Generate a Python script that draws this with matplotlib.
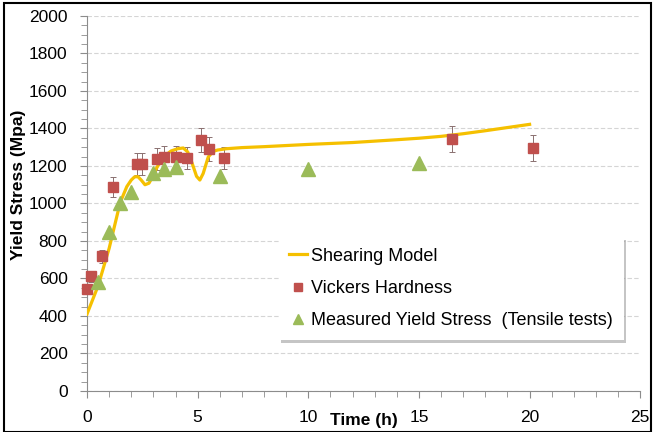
import matplotlib
matplotlib.use('Agg')
import matplotlib.pyplot as plt
from matplotlib.patches import Rectangle

plt.rcParams['font.family'] = ['Liberation Sans', 'DejaVu Sans']

# shearing model curve
t_model = [0, 0.5, 1.0, 1.5, 1.8, 2.0, 2.15, 2.3, 2.45, 2.62, 2.8, 3.0, 3.15, 3.45,
           3.8, 4.1, 4.35, 4.55, 4.75, 4.95, 5.1, 5.25, 5.48, 5.7, 5.9, 6.3, 7, 8,
           10, 12, 14, 15, 16, 17, 18, 19, 20]
y_model = [410, 560, 760, 1005, 1090, 1125, 1142, 1143, 1125, 1100, 1108, 1150, 1190, 1248,
           1280, 1292, 1296, 1275, 1215, 1145, 1125, 1160, 1248, 1278, 1285, 1292, 1298, 1303,
           1315, 1325, 1340, 1348, 1358, 1372, 1388, 1405, 1422]

# Vickers hardness
t_vh = [0, 0.17, 0.67, 1.17, 2.25, 2.5, 3.17, 3.5, 4.0, 4.5, 5.17, 5.5, 6.17, 16.5, 20.17]
y_vh = [545, 612, 718, 1088, 1210, 1210, 1237, 1248, 1248, 1243, 1339, 1291, 1243, 1344, 1296]
err_vh = [25, 30, 35, 55, 60, 60, 60, 60, 60, 60, 64, 64, 60, 70, 68]

# measured yield stress (tensile tests)
t_ys = [0.5, 1, 1.5, 2, 3, 3.5, 4, 6, 10, 15]
y_ys = [580, 850, 1005, 1060, 1165, 1185, 1195, 1145, 1185, 1215]

fig = plt.figure(figsize=(6.54, 4.32), dpi=100)
ax = fig.add_axes([0.133, 0.095, 0.846, 0.868])

ax.plot(t_model, y_model, color='#F5C000', lw=2.3, label='Shearing Model', zorder=3)
ax.errorbar(t_vh, y_vh, yerr=err_vh, fmt='none', ecolor='#8a7070', elinewidth=0.7,
            capsize=2.5, capthick=0.7, zorder=2)
ax.plot(t_vh, y_vh, 's', color='#C0504D', ms=7, mec='#C0504D', label='Vickers Hardness',
        zorder=4, clip_on=False)
ax.plot(t_ys, y_ys, '^', color='#9BBB59', ms=9.5, mec='#9BBB59', zorder=4, clip_on=False,
        label='Measured Yield Stress  (Tensile tests)')

ax.set_xlim(0, 25)
ax.set_ylim(0, 2000)
ax.set_xticks(range(0, 26, 5))
ax.set_xticks(range(0, 26, 1), minor=True)
ax.set_yticks(range(0, 2001, 200))
ax.set_yticks(range(0, 2001, 50), minor=True)
ax.yaxis.grid(True, color='#d5d5d5', ls=(0, (4, 2)), lw=0.8)
ax.set_axisbelow(True)

for s in ['top', 'right']:
    ax.spines[s].set_visible(False)
for s in ['left', 'bottom']:
    ax.spines[s].set_color('#8c8c8c')
ax.tick_params(which='both', direction='out', color='#8c8c8c', labelsize=12.5)
ax.tick_params(which='major', length=5)
ax.tick_params(which='minor', length=4)
ax.tick_params(axis='y', pad=9)
ax.tick_params(axis='x', pad=9)

ax.set_ylabel('Yield Stress (Mpa)', fontsize=12.5, fontweight='bold')
ax.yaxis.set_label_coords(-0.11, 0.55)
ax.text(12.5, -0.06, 'Time (h)', transform=ax.get_xaxis_transform(), ha='center',
        va='top', fontsize=12.5, fontweight='bold')

leg = ax.legend(loc='upper left', bbox_to_anchor=(0.33, 0.435), fontsize=13,
                frameon=True, fancybox=False, edgecolor='white', shadow={'color': '0.55'},
                handlelength=1.0, handletextpad=0.2, borderpad=0.6, labelspacing=0.85,
                markerscale=0.75)
leg.get_frame().set_linewidth(0)

fig.patches.append(Rectangle((0.006, 0.0), 0.99, 0.992, transform=fig.transFigure,
                             fill=False, ec='black', lw=1.5))

fig.savefig('out.png', dpi=100)
